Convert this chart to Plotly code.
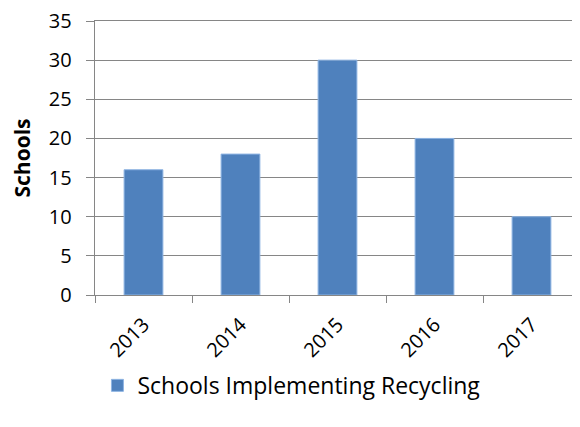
import plotly.graph_objects as go

years = ['2013', '2014', '2015', '2016', '2017']
schools = [16, 18, 30, 20, 10]

font_family = 'Open Sans, Liberation Sans, sans-serif'

fig = go.Figure(go.Bar(x=years, y=schools, name='Schools Implementing Recycling',
                       marker=dict(color='#4F81BD', line=dict(color='#8EB4E3', width=1)),
                       width=0.4, showlegend=True))

# page body has an 8px margin, so the figure is a bit smaller than the window
fig.update_layout(
    width=572, height=419,
    margin=dict(l=87, r=0, t=13, b=132, autoexpand=False),
    paper_bgcolor='white', plot_bgcolor='white',
    font=dict(family=font_family, size=20, color='black'),
    legend=dict(orientation='h', x=0.005, xanchor='left',
                y=-0.33, yanchor='middle', font=dict(size=23)),
)
# mirror line stands in for the top gridline at 35
fig.update_xaxes(type='category', showline=True, mirror=True, linecolor='#868686', linewidth=1,
                 ticks='outside', tickson='boundaries', ticklen=7, tickcolor='#868686',
                 tickangle=-45, showgrid=False, automargin=False, ticklabelstandoff=9,
                 tickfont=dict(size=20))
fig.update_yaxes(range=[0, 35], dtick=5, ticksuffix='\u00a0\u00a0', ticklabeloverflow='allow',
                 showline=True, linecolor='#868686', linewidth=1,
                 ticks='outside', ticklen=8, tickcolor='#868686',
                 gridcolor='#868686', gridwidth=1, zeroline=False, automargin=False,
                 tickfont=dict(size=20),
                 title=dict(text='<b>Schools</b>', font=dict(size=21), standoff=14))

fig.write_html('out.html')
